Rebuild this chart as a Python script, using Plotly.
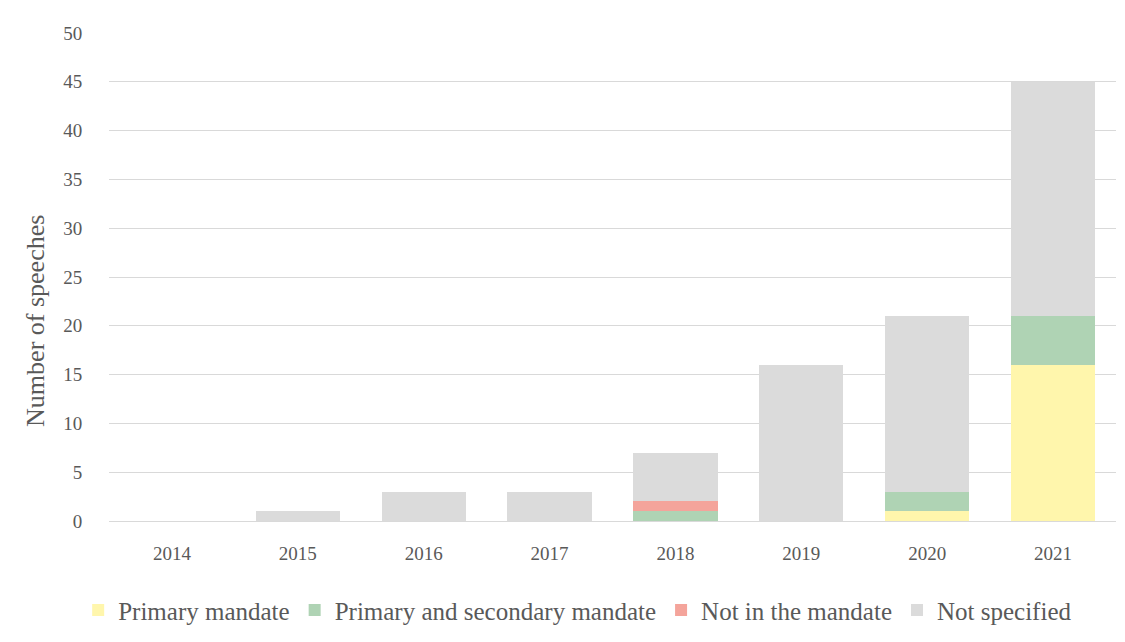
import plotly.graph_objects as go

years = ["2014", "2015", "2016", "2017", "2018", "2019", "2020", "2021"]
primary = [0, 0, 0, 0, 0, 0, 1, 16]
primary_secondary = [0, 0, 0, 0, 1, 0, 2, 5]
not_in_mandate = [0, 0, 0, 0, 1, 0, 0, 0]
not_specified = [0, 1, 3, 3, 5, 16, 18, 24]

series = [
    ("Primary mandate", primary, "#FFF6AC"),
    ("Primary and secondary mandate", primary_secondary, "#AFD3B4"),
    ("Not in the mandate", not_in_mandate, "#F4A49B"),
    ("Not specified", not_specified, "#DBDBDB"),
]

font_family = "Liberation Serif, DejaVu Serif, serif"
text_color = "#595959"

fig = go.Figure()
for name, vals, color in series:
    fig.add_trace(go.Bar(x=years, y=vals, name=name, marker=dict(color=color, line=dict(width=0))))

fig.update_layout(
    barmode="stack",
    bargap=0.33,
    width=1117,
    height=634,
    paper_bgcolor="white",
    plot_bgcolor="white",
    margin=dict(l=101, r=9, t=25, b=121),
    font=dict(family=font_family, size=19, color=text_color),
    legend=dict(
        orientation="h",
        xref="container", yref="container",
        x=0.51, xanchor="center",
        y=0.05, yanchor="middle",
        font=dict(size=25, color=text_color),
        traceorder="normal",
        itemwidth=30,
    ),
    xaxis=dict(
        showgrid=False,
        showline=False,
        ticks="outside",
        ticklen=15,
        tickcolor="rgba(0,0,0,0)",
        tickfont=dict(size=19),
    ),
    yaxis=dict(
        range=[0, 50],
        dtick=5,
        showgrid=True,
        gridcolor="#D9D9D9",
        gridwidth=1.3,
        zeroline=True,
        zerolinecolor="#D9D9D9",
        zerolinewidth=1.3,
        showline=False,
        ticks="outside",
        ticklen=22,
        tickcolor="rgba(0,0,0,0)",
        tickfont=dict(size=19),
    ),
    annotations=[
        dict(
            text="Number of speeches",
            textangle=-90,
            xref="paper", yref="paper",
            x=-0.0725, y=0.41,
            xanchor="center", yanchor="middle",
            showarrow=False,
            font=dict(size=26, color=text_color, family=font_family),
        )
    ],
)

fig.write_html("out.html")
